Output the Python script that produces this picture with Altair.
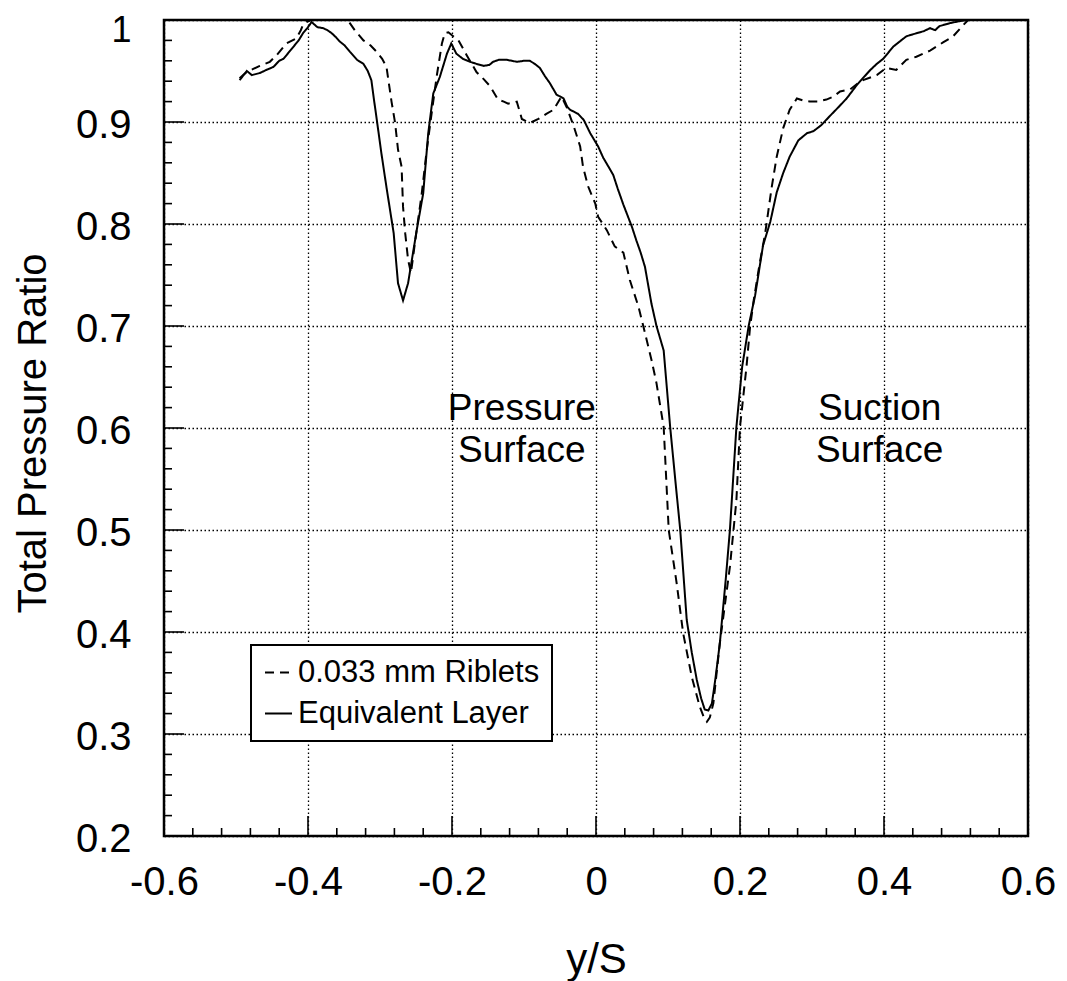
import altair as alt
import pandas as pd

# ---- data ----
equiv_x = [-0.495, -0.485, -0.478, -0.467, -0.458, -0.448, -0.440, -0.434, -0.427, -0.420,
           -0.413, -0.407, -0.401, -0.395, -0.387, -0.379, -0.373, -0.367, -0.361, -0.356,
           -0.349, -0.342, -0.337, -0.332, -0.323, -0.317, -0.312, -0.308, -0.305, -0.298,
           -0.291, -0.281, -0.275, -0.268, -0.261, -0.249, -0.240, -0.233, -0.226, -0.217,
           -0.207, -0.201, -0.194, -0.185, -0.175, -0.166, -0.156, -0.148, -0.143, -0.135,
           -0.124, -0.117, -0.110, -0.100, -0.092, -0.085, -0.078, -0.071, -0.064, -0.055,
           -0.045, -0.040, -0.036, -0.025, -0.017, -0.008, 0.003, 0.010, 0.015, 0.024,
           0.030, 0.038, 0.050, 0.056, 0.062, 0.068, 0.077, 0.084, 0.094, 0.103,
           0.110, 0.117, 0.126, 0.133, 0.140, 0.146, 0.151, 0.156, 0.161, 0.166,
           0.172, 0.180, 0.186, 0.195, 0.203, 0.212, 0.221, 0.232, 0.242, 0.251,
           0.260, 0.269, 0.281, 0.293, 0.302, 0.313, 0.325, 0.336, 0.348, 0.362,
           0.372, 0.381, 0.390, 0.399, 0.406, 0.413, 0.422, 0.431, 0.445, 0.455,
           0.464, 0.471, 0.477, 0.482, 0.492, 0.506, 0.515]
equiv_y = [0.941, 0.950, 0.946, 0.948, 0.951, 0.954, 0.960, 0.962, 0.968, 0.974,
           0.980, 0.987, 0.992, 0.998, 0.993, 0.992, 0.990, 0.987, 0.983, 0.979,
           0.975, 0.969, 0.965, 0.961, 0.957, 0.950, 0.941, 0.920, 0.905, 0.869,
           0.836, 0.791, 0.742, 0.725, 0.742, 0.794, 0.830, 0.889, 0.928, 0.944,
           0.967, 0.977, 0.967, 0.962, 0.959, 0.957, 0.955, 0.956, 0.959, 0.961,
           0.961, 0.960, 0.959, 0.960, 0.960, 0.957, 0.953, 0.945, 0.938, 0.927,
           0.923, 0.915, 0.912, 0.908, 0.902, 0.889, 0.876, 0.865, 0.859, 0.848,
           0.835, 0.819, 0.797, 0.784, 0.772, 0.758, 0.722, 0.700, 0.676, 0.601,
           0.550, 0.500, 0.412, 0.380, 0.353, 0.335, 0.324, 0.323, 0.330, 0.355,
           0.389, 0.450, 0.500, 0.601, 0.660, 0.700, 0.730, 0.779, 0.802, 0.831,
           0.850, 0.866, 0.882, 0.889, 0.891, 0.897, 0.906, 0.914, 0.923, 0.936,
           0.944, 0.951, 0.957, 0.962, 0.968, 0.974, 0.979, 0.984, 0.987, 0.989,
           0.992, 0.990, 0.994, 0.995, 0.997, 0.999, 1.000]

riblet_x = [-0.495, -0.490, -0.485, -0.476, -0.467, -0.460, -0.453, -0.443, -0.436, -0.430,
            -0.416, -0.410, -0.407, -0.402, -0.396, -0.345, -0.335, -0.323, -0.313, -0.305,
            -0.297, -0.291, -0.284, -0.279, -0.275, -0.270, -0.268, -0.265, -0.261, -0.257,
            -0.251, -0.242, -0.235, -0.228, -0.221, -0.214, -0.210, -0.205, -0.200, -0.191,
            -0.180, -0.166, -0.156, -0.147, -0.136, -0.128, -0.122, -0.110, -0.103, -0.092,
            -0.080, -0.069, -0.059, -0.048, -0.041, -0.031, -0.022, -0.018, -0.011, -0.001,
            0.003, 0.015, 0.026, 0.038, 0.047, 0.059, 0.066, 0.077, 0.084, 0.094,
            0.101, 0.112, 0.121, 0.133, 0.144, 0.150, 0.154, 0.158, 0.163, 0.172,
            0.186, 0.195, 0.200, 0.209, 0.214, 0.219, 0.227, 0.235, 0.244, 0.251,
            0.260, 0.269, 0.279, 0.288, 0.297, 0.308, 0.320, 0.330, 0.339, 0.353,
            0.362, 0.371, 0.390, 0.403, 0.417, 0.431, 0.445, 0.464, 0.482, 0.496,
            0.510, 0.517]
riblet_y = [0.943, 0.946, 0.949, 0.952, 0.955, 0.957, 0.959, 0.966, 0.972, 0.977,
            0.982, 0.990, 0.995, 0.998, 1.000, 1.000, 0.990, 0.980, 0.975, 0.969,
            0.962, 0.954, 0.920, 0.899, 0.873, 0.856, 0.817, 0.791, 0.765, 0.752,
            0.784, 0.830, 0.873, 0.910, 0.946, 0.977, 0.987, 0.988, 0.985, 0.980,
            0.966, 0.949, 0.942, 0.935, 0.922, 0.920, 0.918, 0.920, 0.903, 0.899,
            0.903, 0.908, 0.912, 0.925, 0.915, 0.896, 0.876, 0.856, 0.837, 0.820,
            0.807, 0.794, 0.778, 0.772, 0.745, 0.719, 0.699, 0.667, 0.644, 0.601,
            0.500, 0.448, 0.399, 0.356, 0.327, 0.316, 0.312, 0.316, 0.330, 0.389,
            0.464, 0.529, 0.601, 0.660, 0.699, 0.725, 0.760, 0.791, 0.836, 0.866,
            0.894, 0.912, 0.923, 0.921, 0.920, 0.920, 0.922, 0.925, 0.930, 0.932,
            0.937, 0.941, 0.946, 0.953, 0.951, 0.961, 0.964, 0.970, 0.978, 0.984,
            0.995, 1.000]

series_names = ["0.033 mm Riblets", "Equivalent Layer"]

x_ticks = [-0.6, -0.4, -0.2, 0.0, 0.2, 0.4, 0.6]
y_ticks = [0.2, 0.3, 0.4, 0.5, 0.6, 0.7, 0.8, 0.9, 1.0]
x_major = [-0.4, -0.2, 0.0, 0.2, 0.4]
x_minor = [-0.56, -0.52, -0.48, -0.44, -0.36, -0.32, -0.28, -0.24, -0.16, -0.12, -0.08, -0.04,
           0.04, 0.08, 0.12, 0.16, 0.24, 0.28, 0.32, 0.36, 0.44, 0.48, 0.52, 0.56]
y_major = [0.3, 0.4, 0.5, 0.6, 0.7, 0.8, 0.9]
y_minor = [0.22, 0.24, 0.26, 0.28, 0.32, 0.34, 0.36, 0.38, 0.42, 0.44, 0.46, 0.48,
           0.52, 0.54, 0.56, 0.58, 0.62, 0.64, 0.66, 0.68, 0.72, 0.74, 0.76, 0.78,
           0.82, 0.84, 0.86, 0.88, 0.92, 0.94, 0.96, 0.98]

ann_text = ["Pressure", "Surface", "Suction", "Surface"]
ann_x = [-0.103, -0.103, 0.394, 0.394]
ann_y = [0.608, 0.567, 0.608, 0.567]

# ---- tables ----
lines_df = pd.concat([
    pd.DataFrame({"x": riblet_x, "y": riblet_y, "series": series_names[0]}),
    pd.DataFrame({"x": equiv_x, "y": equiv_y, "series": series_names[1]}),
], ignore_index=True)
ann_df = pd.DataFrame({"x": ann_x, "y": ann_y, "label": ann_text})

FONT = "Liberation Sans"
W, H = 864, 816

xscale = alt.Scale(domain=[-0.6, 0.6], nice=False, zero=False)
yscale = alt.Scale(domain=[0.2, 1.0], nice=False, zero=False)

lbl_x = "datum.value == 0 ? '0' : (datum.value < 0 ? '-' + format(-datum.value, '.1f') : format(datum.value, '.1f'))"
lbl_y = "datum.value == 1 ? '1' : format(datum.value, '.1f')"

x_axis = alt.Axis(values=x_ticks, labelExpr=lbl_x, tickSize=0, domain=False, labelFlush=False,
                  grid=True, gridDash=[1.5, 2.5], gridColor="black", gridWidth=1.3,
                  labelFont=FONT, labelFontSize=40, labelColor="black", labelPadding=26,
                  title="y/S", titleFont=FONT, titleFontSize=42, titleFontWeight="normal",
                  titleColor="black", titleBaseline="alphabetic", titleY=136)
y_axis = alt.Axis(values=y_ticks, labelExpr=lbl_y, tickSize=0, domain=False, labelFlush=False,
                  grid=True, gridDash=[1.5, 2.5], gridColor="black", gridWidth=1.3,
                  labelFont=FONT, labelColor="black", labelPadding=33,
                  labelFontSize={"condition": {"test": "datum.value == 1", "value": 36}, "value": 40},
                  labelOffset={"condition": {"test": "datum.value == 1", "value": 10}, "value": 3},
                  title="Total Pressure Ratio", titleFont=FONT, titleFontSize=40,
                  titleFontWeight="normal", titleColor="black", titleBaseline="alphabetic",
                  titleX=-119, titleY=413)

X = alt.X("x:Q", scale=xscale, axis=x_axis, title="y/S")
Y = alt.Y("y:Q", scale=yscale, axis=y_axis, title="Total Pressure Ratio")

lines = alt.Chart(lines_df).mark_line(color="black", strokeWidth=2, clip=True).encode(
    x=X, y=Y,
    strokeDash=alt.StrokeDash(
        "series:N",
        scale=alt.Scale(domain=series_names, range=[[9, 6], [1, 0]]),
        legend=alt.Legend(orient="none", legendX=87, legendY=625, title=None,
                          symbolType="stroke", symbolSize=729, symbolStrokeWidth=2,
                          symbolStrokeColor="black", labelFont=FONT, labelFontSize=31,
                          labelColor="black", labelOffset=4, labelLimit=500,
                          padding=12, rowPadding=9,
                          strokeColor="black", fillColor="white"),
    ),
)

ann = alt.Chart(ann_df).mark_text(font=FONT, fontSize=37, color="black", align="center",
                                  baseline="alphabetic").encode(
    x=X, y=Y, text="label:N",
)

def xtick_layer(vals, length):
    return alt.Chart(pd.DataFrame({"x": vals})).mark_rule(color="black", strokeWidth=1.6).encode(
        x=X, y=alt.value(H), y2=alt.value(H - length))

def ytick_layer(vals, length):
    return alt.Chart(pd.DataFrame({"y": vals})).mark_rule(color="black", strokeWidth=1.6).encode(
        y=Y, x=alt.value(0), x2=alt.value(length))

chart = alt.layer(
    lines, ann,
    xtick_layer(x_minor, 8), xtick_layer(x_major, 20),
    ytick_layer(y_minor, 8), ytick_layer(y_major, 20),
).properties(
    width=W, height=H,
    autosize=alt.AutoSizeParams(type="none"),
    padding={"left": 156, "top": 12, "right": 31, "bottom": 150},
    background="white",
).configure_view(stroke="black", strokeWidth=2.5).configure_legend(strokeWidth=2)

chart.save("out.html", embed_options={"renderer": "svg", "actions": False})
